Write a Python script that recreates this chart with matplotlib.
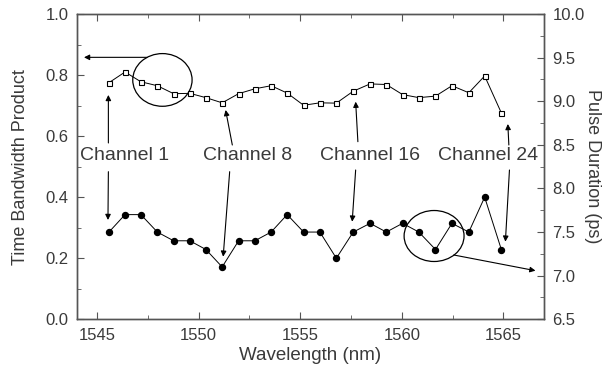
import matplotlib
matplotlib.use("Agg")
import matplotlib.pyplot as plt
from matplotlib.patches import Ellipse
from matplotlib.ticker import MultipleLocator, FormatStrFormatter

plt.rcParams["font.family"] = ["Liberation Sans", "DejaVu Sans"]

# wavelengths of the 25 channels (nm)
wavelength = [1545.59, 1546.38, 1547.16, 1547.97, 1548.77, 1549.57, 1550.36,
              1551.16, 1551.97, 1552.77, 1553.57, 1554.36, 1555.17, 1555.97,
              1556.78, 1557.61, 1558.44, 1559.24, 1560.04, 1560.84, 1561.66,
              1562.47, 1563.30, 1564.08, 1564.90]
tbp = [0.775, 0.810, 0.778, 0.765, 0.739, 0.740, 0.726, 0.709, 0.739, 0.755,
       0.765, 0.741, 0.701, 0.709, 0.708, 0.747, 0.771, 0.769, 0.736, 0.726,
       0.731, 0.765, 0.742, 0.797, 0.676]
pulse_ps = [7.5, 7.7, 7.7, 7.5, 7.4, 7.4, 7.3, 7.1, 7.4, 7.4, 7.5, 7.7, 7.5,
            7.5, 7.2, 7.5, 7.6, 7.5, 7.6, 7.5, 7.3, 7.6, 7.5, 7.9, 7.3]

channel_labels = ["Channel 1", "Channel 8", "Channel 16", "Channel 24"]

txt = "#3a3a3a"
spine = "#555555"

fig = plt.figure(figsize=(6.1, 3.73), dpi=100)
ax = fig.add_axes([0.1257, 0.144, 0.7661, 0.8185])
ax2 = ax.twinx()

ax.plot(wavelength, tbp, color="k", lw=0.7, marker="s", ms=3.6,
        mfc="white", mec="k", mew=0.8)
ax2.plot(wavelength, pulse_ps, color="k", lw=0.7, marker="o", ms=4.3,
         mfc="k", mec="k")

ax.set_xlim(1544, 1567)
ax.set_ylim(0, 1.0)
ax2.set_ylim(6.5, 10.0)

ax.xaxis.set_major_locator(MultipleLocator(5))
ax.xaxis.set_minor_locator(MultipleLocator(2.5))
ax.yaxis.set_major_locator(MultipleLocator(0.2))
ax.yaxis.set_minor_locator(MultipleLocator(0.1))
ax2.yaxis.set_major_locator(MultipleLocator(0.5))
ax2.yaxis.set_minor_locator(MultipleLocator(0.25))
ax.yaxis.set_major_formatter(FormatStrFormatter("%.1f"))
ax2.yaxis.set_major_formatter(FormatStrFormatter("%.1f"))

for a in (ax, ax2):
    for s in a.spines.values():
        s.set_color(spine)
        s.set_linewidth(1.0)
    a.tick_params(which="both", direction="in", colors=spine,
                  labelcolor=txt, labelsize=12, pad=6)
    a.tick_params(which="major", length=5)
    a.tick_params(which="minor", length=3)
ax.tick_params(which="both", top=True)

ax.set_xlabel("Wavelength (nm)", fontsize=13.5, color=txt, labelpad=3)
ax.set_ylabel("Time Bandwidth Product", fontsize=13, color=txt, labelpad=12)
ax2.set_ylabel("Pulse Duration (ps)", fontsize=13, color=txt,
               rotation=270, labelpad=12)

# channel labels and arrows (left-axis coordinates)
label_x = [1546.35, 1552.43, 1558.46, 1564.23]
for lx, lab in zip(label_x, channel_labels):
    ax.text(lx, 0.535, lab, fontsize=14, color=txt, ha="center", va="center")

arrows = [
    ((1545.56, 0.5775), (1545.56, 0.7348)),
    ((1545.56, 0.4835), (1545.54, 0.3252)),
    ((1551.66, 0.5709), (1551.33, 0.6856)),
    ((1551.53, 0.4835), (1551.21, 0.2050)),
    ((1557.84, 0.5817), (1557.73, 0.7127)),
    ((1557.73, 0.4890), (1557.56, 0.3197)),
    ((1565.27, 0.5709), (1565.22, 0.6397)),
    ((1565.30, 0.4890), (1565.10, 0.2542)),
    ((1547.47, 0.858), (1544.36, 0.858)),
    ((1562.56, 0.2106), (1566.58, 0.1592)),
]
for tail, tip in arrows:
    ax.annotate("", xy=tip, xytext=tail,
                arrowprops=dict(arrowstyle="-|>", color="k", lw=0.8,
                                mutation_scale=8, shrinkA=0, shrinkB=0))

ax.add_patch(Ellipse((1548.22, 0.784), 2.92, 0.1726, fill=False,
                     ec="k", lw=0.9))
ax.add_patch(Ellipse((1561.59, 0.2728), 2.95, 0.167, fill=False,
                     ec="k", lw=0.9))

fig.savefig("out.png", dpi=100)
